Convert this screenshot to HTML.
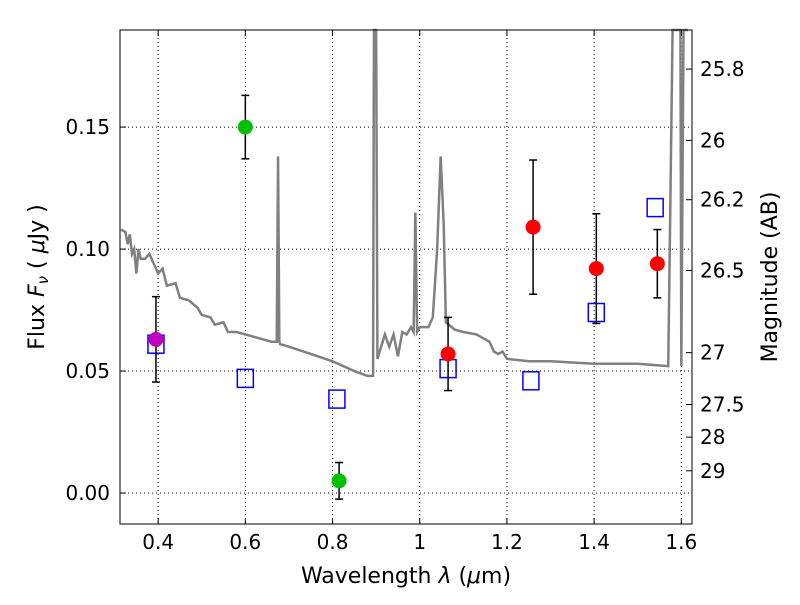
<!DOCTYPE html>
<html><head><meta charset="utf-8"><style>
body{margin:0;background:#fff}
svg{font-family:"DejaVu Sans","Liberation Sans",sans-serif}
</style></head><body>
<svg id="chart" width="800" height="600" viewBox="0 0 800 600">
<rect width="800" height="600" fill="#fff"/>
<g id="grid"></g>
<g id="spec"></g>
<g id="marks"></g>
<rect x="120" y="30" width="572" height="494" fill="none" stroke="#000" stroke-width="1"/>
<g id="axes"></g>
<text x="406" y="583" font-size="22" text-anchor="middle">Wavelength  <tspan font-style="italic">λ</tspan> (<tspan font-style="italic">μ</tspan>m)</text>
<text transform="translate(44,277) rotate(-90)" font-size="22" text-anchor="middle">Flux  <tspan font-style="italic">F<tspan font-size="15" dy="4">ν</tspan></tspan><tspan dy="-4">  ( </tspan><tspan font-style="italic">μ</tspan>Jy )</text>
<text transform="translate(777,277) rotate(-90)" font-size="22" text-anchor="middle">Magnitude (AB)</text>
</svg>
<script>
const xTicks=[0.4,0.6,0.8,1.0,1.2,1.4,1.6];
const xTickLabels=["0.4","0.6","0.8","1","1.2","1.4","1.6"];
const yTicks=[0,0.05,0.10,0.15];
const yTickLabels=["0.00","0.05","0.10","0.15"];
const magTicks=[25.8,26,26.2,26.5,27,27.5,28,29];
const magTickLabels=["25.8","26","26.2","26.5","27","27.5","28","29"];
const specWave=[0.315,0.325,0.33,0.335,0.34,0.345,0.35,0.355,0.36,0.37,0.38,0.39,0.4,0.41,0.42,0.44,0.45,0.47,0.49,0.5,0.52,0.53,0.55,0.56,0.58,0.6,0.62,0.64,0.66,0.672,0.675,0.678,0.68,0.7,0.75,0.8,0.85,0.88,0.893,0.895,0.9,0.903,0.92,0.93,0.94,0.95,0.96,0.97,0.98,0.986,0.99,0.994,1.0,1.02,1.03,1.04,1.048,1.055,1.06,1.08,1.1,1.13,1.16,1.17,1.18,1.19,1.2,1.25,1.3,1.4,1.5,1.57,1.58,1.59,1.598,1.6,1.605,1.615];
const specFlux=[0.108,0.107,0.102,0.106,0.098,0.1,0.09,0.1,0.096,0.096,0.098,0.094,0.09,0.092,0.085,0.086,0.08,0.079,0.076,0.073,0.072,0.069,0.07,0.066,0.066,0.065,0.064,0.063,0.062,0.062,0.138,0.062,0.061,0.06,0.057,0.054,0.05,0.048,0.048,0.19,0.19,0.055,0.065,0.06,0.065,0.056,0.066,0.065,0.068,0.066,0.115,0.066,0.068,0.068,0.072,0.1,0.138,0.11,0.07,0.067,0.066,0.065,0.062,0.058,0.057,0.058,0.055,0.054,0.054,0.053,0.053,0.052,0.19,0.19,0.19,0.052,0.19,0.19];
const ptWave=[0.395,0.60,0.815,1.065,1.26,1.405,1.545];
const ptFlux=[0.063,0.150,0.005,0.057,0.109,0.092,0.094];
const ptErr=[0.0175,0.013,0.0075,0.015,0.0275,0.0225,0.014];
const ptColor=["#c000c0","#00c000","#00c000","#f00","#f00","#f00","#f00"];
const modelWave=[0.395,0.60,0.81,1.065,1.255,1.405,1.54];
const modelFlux=[0.061,0.047,0.0385,0.051,0.046,0.074,0.117];
const X0=120,X1=692,Y0=30,Y1=524,xmin=0.3125,xmax=1.6245,ymin=-0.0127,ymax=0.1898;
const sx=v=>X0+(v-xmin)/(xmax-xmin)*(X1-X0);
const sy=v=>Y1-(v-ymin)/(ymax-ymin)*(Y1-Y0);
const NS="http://www.w3.org/2000/svg";
function mk(t,a,p){const e=document.createElementNS(NS,t);for(const k in a)e.setAttribute(k,a[k]);p.appendChild(e);return e;}
const grid=document.getElementById('grid'),axes=document.getElementById('axes'),spec=document.getElementById('spec'),marks=document.getElementById('marks');
xTicks.forEach((v,i)=>{const x=sx(v);
 const g=mk('line',{x1:x,x2:x,y1:Y0,y2:Y1,stroke:'#000','stroke-dasharray':'1,3','stroke-width':1},grid);
 
 mk('line',{x1:x,x2:x,y1:Y1,y2:Y1-6,stroke:'#000'},axes);mk('line',{x1:x,x2:x,y1:Y0,y2:Y0+6,stroke:'#000'},axes);
 const t=mk('text',{x:x,y:Y1+25,'font-size':20,'text-anchor':'middle'},axes);t.textContent=xTickLabels[i];
 });
yTicks.forEach((v,i)=>{const y=sy(v);
 const g=mk('line',{x1:X0,x2:X1,y1:y,y2:y,stroke:'#000','stroke-dasharray':'1,3','stroke-width':1},grid);
 
 mk('line',{x1:X0,x2:X0+6,y1:y,y2:y,stroke:'#000'},axes);
 const t=mk('text',{x:X0-10,y:y+7,'font-size':20,'text-anchor':'end'},axes);t.textContent=yTickLabels[i];
 });
magTicks.forEach((m,i)=>{const y=sy(Math.pow(10,(23.9-m)/2.5));
 mk('line',{x1:X1,x2:X1-6,y1:y,y2:y,stroke:'#000'},axes);
 const t=mk('text',{x:X1+8,y:y+7,'font-size':20},axes);t.textContent=magTickLabels[i];
 });
const pl=mk('polyline',{points:specWave.map((w,i)=>sx(w)+','+sy(Math.min(specFlux[i],ymax))).join(' '),fill:'none',stroke:'#808080','stroke-width':2.5},spec);

modelWave.forEach((w,i)=>{const r=mk('rect',{x:sx(w)-8,y:sy(modelFlux[i])-9,width:16,height:18,fill:'none',stroke:'#00f','stroke-width':1.5},marks);
 });
ptWave.forEach((w,i)=>{const x=sx(w),y=sy(ptFlux[i]),y1=sy(ptFlux[i]+ptErr[i]),y2=sy(ptFlux[i]-ptErr[i]);
 const e=mk('g',{},marks);
 mk('line',{x1:x,x2:x,y1:y1,y2:y2,stroke:'#000','stroke-width':1.5},e);
 mk('line',{x1:x-4,x2:x+4,y1:y1,y2:y1,stroke:'#000','stroke-width':1.5},e);
 mk('line',{x1:x-4,x2:x+4,y1:y2,y2:y2,stroke:'#000','stroke-width':1.5},e);
 const c=mk('circle',{cx:x,cy:y,r:7.5,fill:ptColor[i]},marks);
 });
</script>
</body></html>
